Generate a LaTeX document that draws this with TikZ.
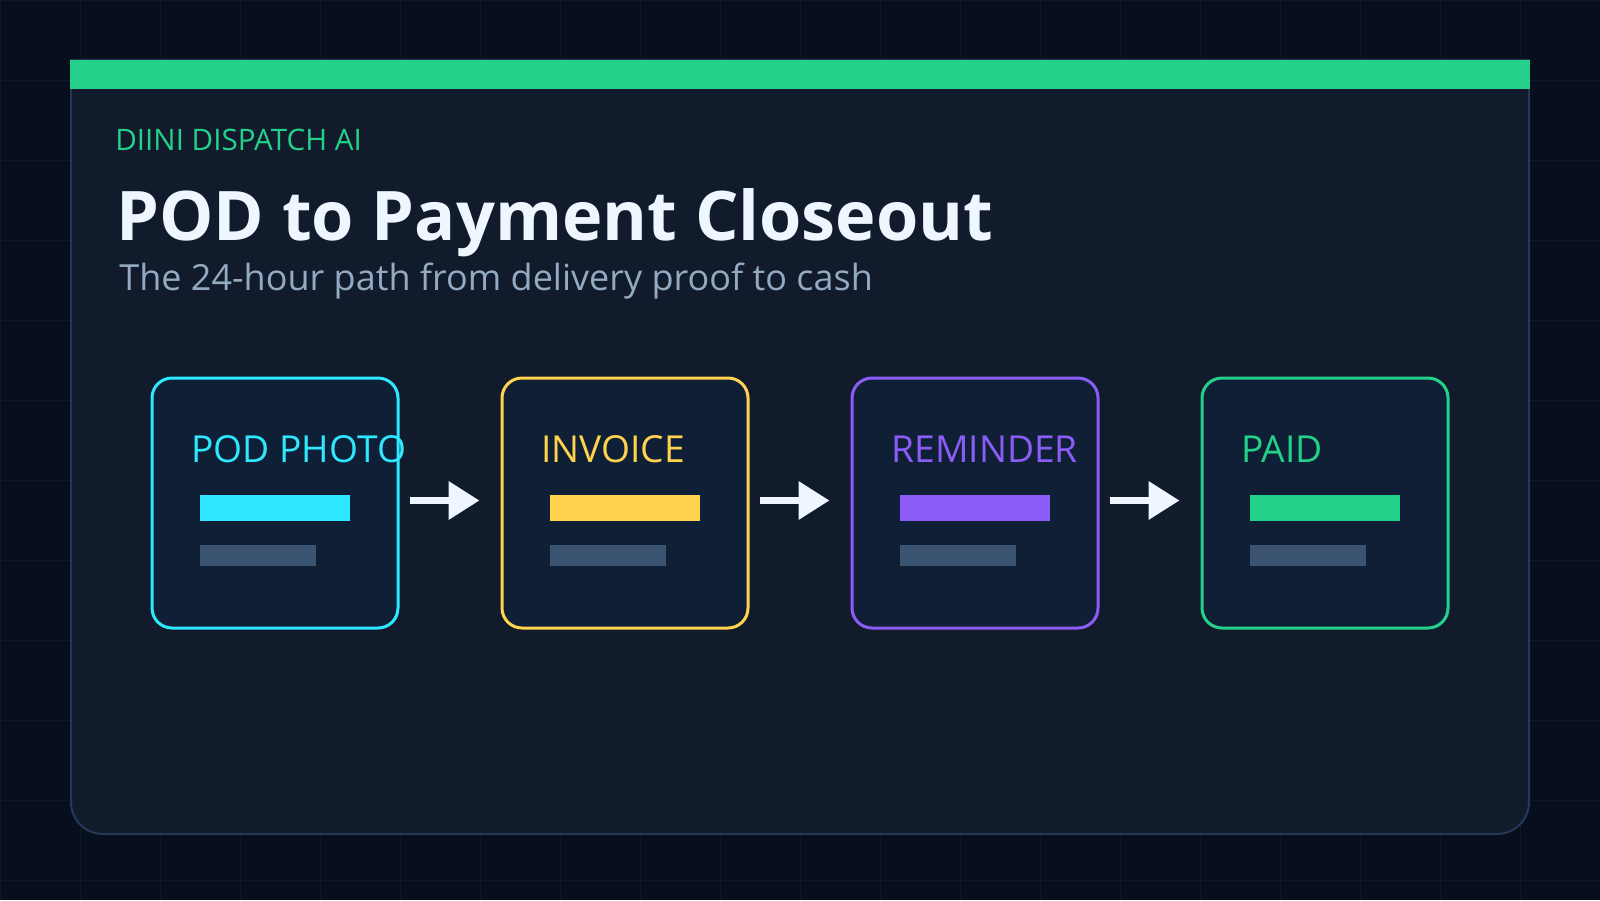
\documentclass[tikz,border=0pt]{standalone}
\usepackage{fontspec}
\setmainfont{Open Sans}
\usetikzlibrary{arrows.meta}
\definecolor{bgc}{HTML}{070F1C}
\definecolor{gridc}{HTML}{0E1829}
\definecolor{cardc}{HTML}{111B2C}
\definecolor{cardline}{HTML}{24395A}
\definecolor{greenc}{HTML}{23D18B}
\definecolor{titlec}{HTML}{EEF6FF}
\definecolor{subc}{HTML}{94A9C2}
\definecolor{boxc}{HTML}{0F1F36}
\definecolor{cyanc}{HTML}{2EE8FF}
\definecolor{yellowc}{HTML}{FFD34D}
\definecolor{purplec}{HTML}{8B5CF6}
\definecolor{grayc}{HTML}{3A5472}
\tikzset{
  gridline/.style={draw=gridc, line width=0.5pt},
  stepbox/.style={rectangle, rounded corners=10pt, line width=1.5pt, fill=boxc,
    minimum width=123pt, minimum height=125pt, inner sep=0pt},
  steplabel/.style={anchor=base west, inner sep=0pt, font=\fontsize{18.6}{21}\selectfont},
  barmain/.style={rectangle, anchor=north west, inner sep=0pt, minimum width=75pt, minimum height=13pt},
  barsub/.style={rectangle, anchor=north west, inner sep=0pt, minimum width=58pt, minimum height=10.5pt, fill=grayc},
  flow/.style={draw=titlec, line width=3.5pt, -{Triangle[length=15.5pt,width=18.5pt]}},
}
\begin{document}
\begin{tikzpicture}[x=0.5pt,y=-0.5pt]
\useasboundingbox (0,0) rectangle (1600,900);
\fill[bgc] (0,0) rectangle (1600,900);
\foreach \gx in {0,80,...,1600} \draw[gridline] (\gx,0) -- (\gx,900);
\foreach \gy in {0,80,...,880} \draw[gridline] (0,\gy) -- (1600,\gy);
% card
\filldraw[fill=cardc, draw=cardline, line width=1pt, rounded corners=16pt] (71,61) rectangle (1529,834);
\fill[cardc] (70,60) rectangle (1530,140);
\draw[cardline, line width=1pt] (71,140) -- (71,60) -- (1529,60) -- (1529,140);
\fill[greenc] (70,60) rectangle (1530,89);
% texts
\node[anchor=base west, inner sep=0pt, text=greenc, font=\fontsize{14.8}{17}\selectfont] (brand) at (115,150) {DIINI DISPATCH AI};
\node[anchor=base west, inner sep=0pt, text=titlec, font=\fontsize{34.2}{40}\selectfont\bfseries] (title) at (116,240) {POD to Payment Closeout};
\node[anchor=base west, inner sep=0pt, text=subc, font=\fontsize{18}{22}\selectfont] (sub) at (119,290) {The 24-hour path from delivery proof to cash};
% steps
\node[stepbox, draw=cyanc] (b1) at (275,503) {};
\node[stepbox, draw=yellowc] (b2) at (625,503) {};
\node[stepbox, draw=purplec] (b3) at (975,503) {};
\node[stepbox, draw=greenc] (b4) at (1325,503) {};
\node[steplabel, text=cyanc] (l1) at (191,462) {POD PHOTO};
\node[steplabel, text=yellowc] (l2) at (541,462) {INVOICE};
\node[steplabel, text=purplec] (l3) at (891,462) {REMINDER};
\node[steplabel, text=greenc] (l4) at (1241,462) {PAID};
\node[barmain, fill=cyanc] (m1) at (200,495) {};
\node[barmain, fill=yellowc] (m2) at (550,495) {};
\node[barmain, fill=purplec] (m3) at (900,495) {};
\node[barmain, fill=greenc] (m4) at (1250,495) {};
\node[barsub] (s1) at (200,545) {};
\node[barsub] (s2) at (550,545) {};
\node[barsub] (s3) at (900,545) {};
\node[barsub] (s4) at (1250,545) {};
\draw[flow] ([xshift=5pt,yshift=1.25pt]b1.east) -- ([xshift=-10.5pt,yshift=1.25pt]b2.west);
\draw[flow] ([xshift=5pt,yshift=1.25pt]b2.east) -- ([xshift=-10.5pt,yshift=1.25pt]b3.west);
\draw[flow] ([xshift=5pt,yshift=1.25pt]b3.east) -- ([xshift=-10.5pt,yshift=1.25pt]b4.west);
\end{tikzpicture}
\end{document}
